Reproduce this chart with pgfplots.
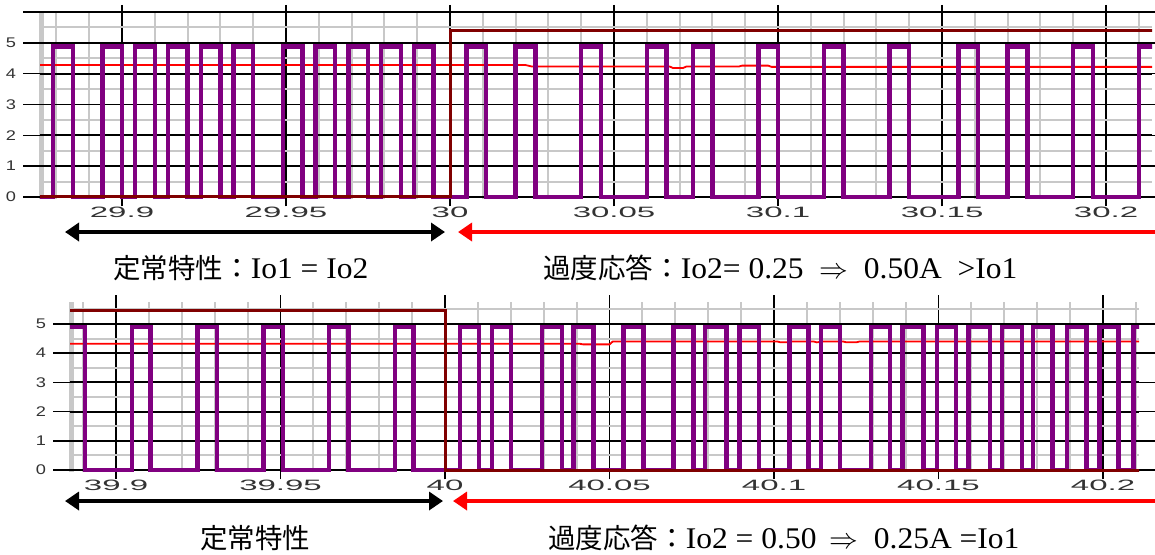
\documentclass[border=0pt]{standalone}
\usepackage{fontspec}
\setmainfont{Liberation Serif}[FakeStretch=1.05]
\newfontfamily\jp{Noto Sans CJK JP}
\newfontfamily\xfont[FakeStretch=2.2]{Liberation Sans}
\newfontfamily\yfont[FakeStretch=1.3]{Liberation Sans}
\usepackage{pgfplots}
\pgfplotsset{compat=1.18}
\usetikzlibrary{arrows.meta}
\definecolor{pur}{HTML}{800080}
\definecolor{dred}{HTML}{800000}
\definecolor{lgrid}{HTML}{C8C8C8}
\pgfplotsset{
  panel/.style={
    scale only axis, anchor=south west,
    axis line style={draw=none},
    tick align=outside,
    grid=both,
    major grid style={black, line width=0.9pt},
    minor grid style={lgrid, line width=1pt},
    major tick length=8.5pt,
    minor tick length=0pt,
    xtick style={black, line width=0.9pt, /pgfplots/major tick length=3.5pt},
    ytick style={black, line width=0.7pt},
    xticklabel style={font=\xfont\fontsize{7.5}{8}\selectfont, text=black!80, yshift=8pt},
    yticklabel style={font=\yfont\fontsize{7}{8}\selectfont, text=black!80},
    minor ytick={0.5,1.5,2.5,3.5,4.5,5.5},
  },
  pulse/.style={pur, line width=2.2pt, const plot, line join=miter},
  step/.style={dred, line width=1.5pt, const plot, line join=miter},
  lvl/.style={red, line width=0.9pt},
}
\begin{document}
\begin{tikzpicture}
\useasboundingbox (0,0) rectangle (577.5pt,277pt);
% left grey bands
\draw[lgrid, line width=2.5pt] (20.5pt,177.3pt) -- (20.5pt,271pt);
\draw[lgrid, line width=2.5pt] (35.5pt,40.8pt) -- (35.5pt,126pt);

\begin{axis}[panel, at={(20pt,177.3pt)}, width=556pt, height=93.7pt,
  xmin=29.875, xmax=30.214, ymin=-0.08, ymax=6,
  xtick={29.9,29.95,30,30.05,30.1,30.15,30.2},
  xticklabels={29.9,29.95,30,30.05,30.1,30.15,30.2},
  minor xtick={29.88,29.89,29.91,29.92,29.93,29.94,29.96,29.97,29.98,29.99,30.01,30.02,30.03,30.04,30.06,30.07,30.08,30.09,30.11,30.12,30.13,30.14,30.16,30.17,30.18,30.19,30.21},
  ytick={0,1,2,3,4,5,6}, yticklabels={0,1,2,3,4,5,{}}]
\addplot[lvl] coordinates {(29.870,4.28)(30.023,4.28)(30.025,4.23)(30.067,4.23)(30.068,4.18)(30.071,4.18)(30.072,4.23)(30.088,4.23)(30.089,4.26)(30.097,4.26)(30.098,4.22)(30.220,4.22)};
\addplot[pulse] coordinates {(29.870,0)(29.879,4.88)(29.885,0)(29.894,4.88)(29.900,0)(29.904,4.88)(29.910,0)(29.914,4.88)(29.920,0)(29.924,4.88)(29.930,0)(29.934,4.88)(29.940,0)(29.949,4.88)(29.955,0)(29.959,4.88)(29.965,0)(29.969,4.88)(29.975,0)(29.979,4.88)(29.985,0)(29.989,4.88)(29.995,0)(30.005,4.88)(30.011,0)(30.020,4.88)(30.026,0)(30.040,4.88)(30.046,0)(30.060,4.88)(30.066,0)(30.074,4.88)(30.080,0)(30.094,4.88)(30.100,0)(30.114,4.88)(30.120,0)(30.134,4.88)(30.140,0)(30.155,4.88)(30.161,0)(30.170,4.88)(30.176,0)(30.190,4.88)(30.196,0)(30.210,4.88)(30.216,0)(30.220,0)};
\addplot[step] coordinates {(29.870,0)(30.000,5.41)(30.220,5.41)};
\end{axis}

\begin{axis}[panel, at={(35pt,40.8pt)}, width=534.6pt, height=85.2pt,
  xmin=39.886, xmax=40.211, ymin=-0.08, ymax=5.75,
  xtick={39.9,39.95,40,40.05,40.1,40.15,40.2},
  xticklabels={39.9,39.95,40,40.05,40.1,40.15,40.2},
  minor xtick={39.89,39.91,39.92,39.93,39.94,39.96,39.97,39.98,39.99,40.01,40.02,40.03,40.04,40.06,40.07,40.08,40.09,40.11,40.12,40.13,40.14,40.16,40.17,40.18,40.19,40.21},
  ytick={0,1,2,3,4,5}, yticklabels={0,1,2,3,4,5}]
\addplot[lvl] coordinates {(39.880,4.32)(40.041,4.32)(40.042,4.30)(40.050,4.30)(40.051,4.40)(40.101,4.40)(40.102,4.37)(40.104,4.37)(40.105,4.40)(40.112,4.40)(40.113,4.37)(40.115,4.40)(40.121,4.40)(40.122,4.37)(40.125,4.37)(40.126,4.40)(40.220,4.40)};
\addplot[pulse] coordinates {(39.880,0)(39.8845,4.9)(39.8906,0)(39.9048,4.9)(39.9105,0)(39.9247,4.9)(39.9306,0)(39.9448,4.9)(39.9507,0)(39.9648,4.9)(39.9706,0)(39.9848,4.9)(39.9904,0)(40.0046,4.9)(40.0104,0)(40.0142,4.9)(40.0200,0)(40.0294,4.9)(40.0355,0)(40.0390,4.9)(40.0451,0)(40.0542,4.9)(40.0603,0)(40.0694,4.9)(40.0755,0)(40.0790,4.9)(40.0856,0)(40.0895,4.9)(40.0955,0)(40.1047,4.9)(40.1105,0)(40.1142,4.9)(40.1201,0)(40.1295,4.9)(40.1353,0)(40.1391,4.9)(40.1454,0)(40.1495,4.9)(40.1553,0)(40.1591,4.9)(40.1657,0)(40.1692,4.9)(40.1753,0)(40.1788,4.9)(40.1847,0)(40.1891,4.9)(40.1950,0)(40.1989,4.9)(40.2047,0)(40.2092,4.9)(40.2150,0)(40.2200,0)};
\addplot[step] coordinates {(39.880,5.45)(40.000,0)(40.220,0)};
\end{axis}

% arrows
\draw[line width=2pt, {Triangle[length=7pt,width=9pt]}-{Triangle[length=7pt,width=9pt]}] (32.5pt,161pt) -- (222.5pt,161pt);
\draw[red, line width=2pt, -{Triangle[length=7pt,width=9pt]}] (580pt,161pt) -- (229pt,161pt);
\draw[line width=2pt, {Triangle[length=7pt,width=9pt]}-{Triangle[length=7pt,width=9pt]}] (32.5pt,26.5pt) -- (221.5pt,26.5pt);
\draw[red, line width=2pt, -{Triangle[length=7pt,width=9pt]}] (580pt,26.5pt) -- (226.5pt,26.5pt);

% texts
\node[anchor=base west, inner sep=0pt] at (56.5pt,138pt) {\fontsize{15}{15}\selectfont{\jp\fontsize{13.75}{15}\selectfont 定常特性：}Io1 = Io2};
\node[anchor=base west, inner sep=0pt] at (271.5pt,138pt) {\fontsize{15}{15}\selectfont{\jp\fontsize{13.75}{15}\selectfont 過度応答：}Io2= 0.25 \ $\Rightarrow$ \ 0.50A \ >Io1};
\node[anchor=base west, inner sep=0pt] at (100pt,3pt) {\jp\fontsize{13.75}{15}\selectfont 定常特性};
\node[anchor=base west, inner sep=0pt] at (274pt,3pt) {\fontsize{15}{15}\selectfont{\jp\fontsize{13.75}{15}\selectfont 過度応答：}Io2 = 0.50\,\ $\Rightarrow$ \ 0.25A =Io1};
\end{tikzpicture}
\end{document}
